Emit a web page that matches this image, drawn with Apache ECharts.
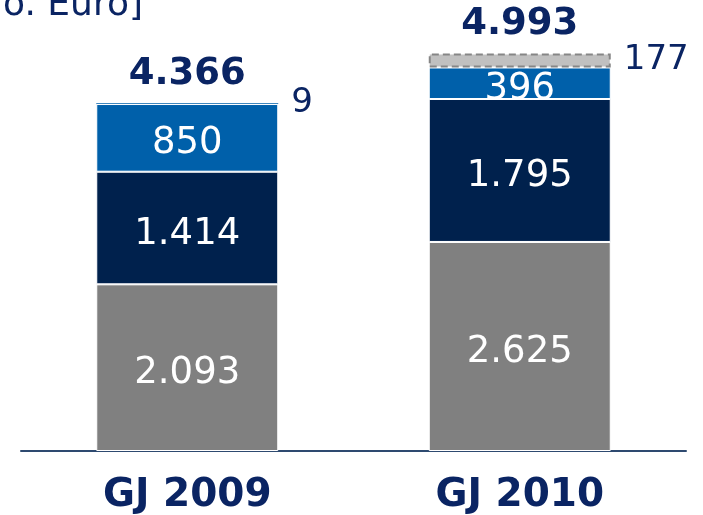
<!DOCTYPE html>
<html>
<head>
<meta charset="utf-8">
<script src="https://cdn.jsdelivr.net/npm/echarts@6/dist/echarts.min.js"></script>
<style>
  html, body { margin: 0; padding: 0; background: #fff; }
  #chart { width: 703px; height: 515px; }
</style>
</head>
<body>
<div id="chart"></div>
<script>
// Werte in Mio. Euro
const categories = ['GJ 2009', 'GJ 2010'];
const grayValues = [2093, 2625];
const navyValues = [1414, 1795];
const blueValues = [850, 396];
const lightValues = [9, 177];
const totals = [4366, 4993];

const textColor = '#0a2463';
const font = 'DejaVu Sans';

// 2093 -> "2.093"
function fmt(v) {
  return String(v).replace(/\B(?=(\d{3})+(?!\d))/g, '.');
}

const chart = echarts.init(document.getElementById('chart'));

const innerLabel = {
  show: true,
  position: 'inside',
  offset: [0, 6],
  color: '#fff',
  fontFamily: font,
  fontSize: 37,
  formatter: p => fmt(p.value)
};

const option = {
  animation: false,
  backgroundColor: '#fff',
  grid: { left: 21, right: 17, top: 13, bottom: 63 },
  graphic: [{
    type: 'text',
    x: 143,
    y: 6,
    style: {
      text: '[Mio. Euro]',
      fill: textColor,
      font: '36px "DejaVu Sans"',
      align: 'right',
      verticalAlign: 'middle'
    }
  }],
  xAxis: {
    type: 'category',
    data: categories,
    axisLine: { lineStyle: { color: '#2e4a70', width: 2 } },
    axisTick: { show: false },
    axisLabel: {
      color: textColor,
      fontFamily: font,
      fontWeight: 'bold',
      fontSize: 39,
      margin: 25
    }
  },
  yAxis: {
    type: 'value',
    min: 0,
    max: 5500,
    show: false,
    splitLine: { show: false }
  },
  series: [
    {
      type: 'bar', stack: 'a', barWidth: 182,
      data: grayValues,
      itemStyle: { color: '#808080', borderColor: '#fff', borderWidth: 1 },
      label: innerLabel
    },
    {
      type: 'bar', stack: 'a',
      data: navyValues,
      itemStyle: { color: '#00214d', borderColor: '#fff', borderWidth: 1 },
      label: innerLabel
    },
    {
      type: 'bar', stack: 'a',
      data: blueValues,
      itemStyle: { color: '#0060aa', borderColor: '#fff', borderWidth: 1 },
      label: innerLabel
    },
    {
      type: 'bar', stack: 'a',
      data: lightValues.map((v, i) => ({
        value: v,
        itemStyle: i === 0
          ? { color: '#0060aa', borderWidth: 0 }
          : { color: '#c0c0c0', borderColor: '#868686', borderWidth: 2, borderType: [7, 4] }
      })),
      label: {
        show: true,
        position: 'right',
        distance: 13,
        color: textColor,
        fontFamily: font,
        fontSize: 34,
        formatter: p => fmt(p.value)
      }
    },
    {
      type: 'bar', stack: 'a',
      data: totals.map(() => 0),
      itemStyle: { color: 'transparent' },
      label: {
        show: true,
        position: 'top',
        distance: 10,
        color: textColor,
        fontFamily: font,
        fontWeight: 'bold',
        fontSize: 37,
        formatter: p => fmt(totals[p.dataIndex])
      }
    }
  ]
};

chart.setOption(option);
</script>
</body>
</html>
